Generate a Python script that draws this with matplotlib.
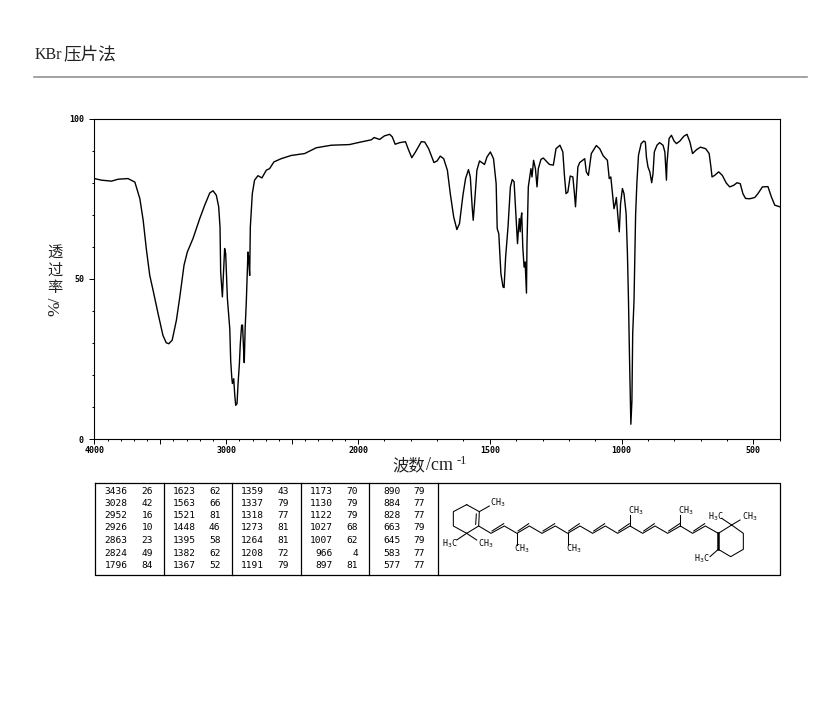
import numpy as np
import matplotlib
matplotlib.use('Agg')
import matplotlib.pyplot as plt

W, H = 822, 709
CJK = 'Noto Sans CJK SC'
SERIF = 'Liberation Serif'
MONO = 'DejaVu Sans Mono'
INK = '#222222'

# spectrum
wavenumber = [4000, 3946, 3870, 3820, 3745, 3693, 3655, 3630, 3605, 3580, 3555, 3517, 3480, 3455, 3436,
              3410, 3378, 3352, 3320, 3295, 3252, 3201, 3163, 3125, 3100, 3075, 3057, 3047, 3042, 3029,
              3022, 3012, 3004, 2991, 2973, 2966, 2958, 2953, 2943, 2935, 2928, 2918, 2910, 2900, 2893,
              2883, 2876, 2868, 2863, 2856, 2848, 2840, 2835, 2830, 2822, 2817, 2802, 2785, 2759, 2729,
              2696, 2671, 2638, 2583, 2507, 2405, 2317, 2203, 2065, 2001, 1949, 1939, 1918, 1900, 1880,
              1870, 1859, 1842, 1820, 1810, 1796, 1782, 1760, 1747, 1732, 1712, 1700, 1688, 1675, 1661,
              1650, 1637, 1625, 1615, 1602, 1592, 1581, 1574, 1567, 1563, 1558, 1549, 1539, 1520, 1511,
              1498, 1486, 1476, 1472, 1466, 1458, 1450, 1446, 1440, 1431, 1422, 1415, 1408, 1402, 1395,
              1392, 1388, 1385, 1382, 1379, 1375, 1370, 1366, 1361, 1359, 1354, 1344, 1340, 1334, 1327,
              1321, 1316, 1306, 1297, 1274, 1259, 1249, 1234, 1223, 1217, 1211, 1204, 1195, 1185, 1179,
              1175, 1166, 1159, 1140, 1134, 1126, 1115, 1096, 1083, 1070, 1054, 1047, 1041, 1036, 1029,
              1024, 1020, 1014, 1009, 1004, 997, 991, 983, 978, 974, 970, 965, 961, 958, 953, 947,
              942, 936, 926, 916, 910, 906, 900, 893, 886, 881, 876, 866, 856, 843, 836, 830,
              828, 820, 811, 801, 792, 779, 764, 752, 741, 731, 716, 701, 681, 668, 662, 657,
              647, 632, 618, 603, 590, 575, 562, 550, 540, 530, 514, 495, 483, 466, 445, 432,
              419, 400]
transmittance = [81.3, 80.8, 80.5, 81.1, 81.3, 80.2, 75.0, 68.3, 59.0, 51.1, 46.5, 39.2, 32.4, 30.1, 29.8,
                 30.9, 37.1, 44.4, 54.3, 58.4, 62.6, 68.8, 73.0, 76.8, 77.5, 76.1, 72.5, 66.2, 52.2, 44.4,
                 50.6, 59.5, 57.9, 43.9, 34.5, 24.6, 19.4, 17.4, 18.9, 13.7, 10.6, 11.1, 17.4, 23.6, 29.8,
                 35.6, 35.6, 27.8, 23.9, 35.0, 42.3, 51.7, 58.4, 56.8, 51.1, 66.2, 76.6, 80.8, 82.2, 81.5,
                 83.9, 84.4, 86.5, 87.5, 88.5, 89.1, 90.9, 91.7, 91.9, 92.5, 93.4, 94.1, 93.5, 94.6, 95.1,
                 94.3, 92.0, 92.5, 92.8, 90.6, 87.8, 89.6, 92.8, 92.7, 90.6, 86.3, 86.8, 88.3, 87.5, 83.9,
                 76.6, 69.3, 65.4, 67.3, 76.1, 81.3, 84.1, 81.8, 72.5, 68.3, 73.5, 83.9, 86.8, 85.7, 88.0,
                 89.6, 87.5, 79.7, 65.7, 64.1, 51.7, 47.5, 47.3, 56.9, 66.2, 78.7, 81.0, 80.3, 71.4, 61.0,
                 64.7, 68.8, 64.7, 68.8, 70.6, 60.0, 53.7, 55.3, 45.6, 61.0, 78.7, 84.4, 81.8, 87.0, 84.4,
                 78.7, 84.4, 87.3, 87.7, 85.7, 85.5, 90.6, 91.7, 89.6, 82.3, 76.6, 77.1, 82.1, 81.8, 76.6,
                 72.5, 84.9, 86.3, 87.5, 83.4, 82.3, 89.1, 91.6, 90.6, 88.4, 87.0, 81.3, 81.8, 77.7, 71.9,
                 73.5, 75.4, 69.3, 64.7, 73.5, 78.2, 76.6, 70.4, 57.9, 43.3, 25.0, 4.7, 12.0, 33.0, 43.3, 69.9,
                 80.2, 88.6, 92.2, 93.0, 92.7, 88.0, 84.9, 83.4, 80.0, 82.8, 89.6, 91.7, 92.5, 91.7, 89.6, 80.8,
                 86.0, 93.8, 94.8, 93.0, 92.2, 93.0, 94.5, 95.1, 92.7, 89.1, 90.3, 91.1, 90.6, 89.1, 85.4, 81.8,
                 82.3, 83.4, 82.3, 79.9, 78.7, 79.2, 80.0, 79.7, 76.6, 75.1, 75.0, 75.4, 76.6, 78.7, 78.8, 75.6,
                 73.0, 72.5]

x_major = [4000, 3500, 3000, 2500, 2000, 1500, 1000, 500]
x_labels = ['4000', '', '3000', '', '2000', '1500', '1000', '500']
y_major = [0, 50, 100]

# peak table, one pair of lists per column
peak_wn = [[3436, 3028, 2952, 2926, 2863, 2824, 1796],
           [1623, 1563, 1521, 1448, 1395, 1382, 1367],
           [1359, 1337, 1318, 1273, 1264, 1208, 1191],
           [1173, 1130, 1122, 1027, 1007, 966, 897],
           [890, 884, 828, 663, 645, 583, 577]]
peak_t = [[26, 42, 16, 10, 23, 49, 84],
          [62, 66, 81, 46, 58, 62, 52],
          [43, 79, 77, 81, 81, 72, 79],
          [70, 79, 79, 68, 62, 4, 81],
          [79, 77, 77, 79, 79, 77, 77]]

# structure drawing, in its own 1050 x 255 frame
ring_left = [(92, 44), (130, 65), (128, 108), (92, 130), (52, 108), (52, 65), (92, 44)]
ring_right = [(847, 130), (887, 105), (922, 130), (922, 178), (884, 200), (847, 178)]
chain = [(128, 108), (165, 130), (205, 108), (243, 130), (280, 108), (318, 130), (358, 108), (395, 130),
         (432, 108), (470, 130), (508, 108), (545, 130), (582, 108), (620, 130), (657, 108), (695, 130),
         (733, 108), (770, 130), (808, 108), (847, 130)]
stubs = [((130, 65), (160, 48)), ((92, 130), (62, 150)), ((92, 130), (122, 150)),
         ((243, 130), (243, 165)), ((395, 130), (395, 165)), ((582, 108), (582, 75)),
         ((733, 108), (733, 75)), ((887, 105), (857, 85)), ((887, 105), (912, 90)),
         ((847, 178), (822, 200))]
atoms = [(186, 37, 'CH$_3$'), (40, 162, 'H$_3$C'), (148, 162, 'CH$_3$'), (258, 177, 'CH$_3$'),
         (412, 177, 'CH$_3$'), (600, 63, 'CH$_3$'), (750, 63, 'CH$_3$'), (838, 80, 'H$_3$C'),
         (942, 80, 'CH$_3$'), (797, 205, 'H$_3$C')]


def forward(w):
    w = np.asarray(w, dtype=float)
    return np.where(w <= 2000, w, 2000 + (w - 2000) / 2)


def inverse(u):
    u = np.asarray(u, dtype=float)
    return np.where(u <= 2000, u, 2000 + (u - 2000) * 2)


def box(x0, y0, x1, y1):
    return [x0 / W, 1 - y1 / H, (x1 - x0) / W, (y1 - y0) / H]


fig = plt.figure(figsize=(W / 100, H / 100), dpi=100)

# spectrum
ax = fig.add_axes(box(94.4, 118.6, 779.8, 439.3))
ax.set_xscale('function', functions=(forward, inverse))
ax.plot(wavenumber, transmittance, color='black', linewidth=1.0)
ax.set_xlim(4000, 400)
ax.set_ylim(0, 100)
ax.set_xticks(x_major, x_labels, fontfamily=MONO, fontsize=6, fontweight='bold')
ax.set_xticks(np.arange(400, 4000, 100), minor=True)
ax.set_yticks(y_major, [str(v) for v in y_major], fontfamily=MONO, fontsize=6, fontweight='bold')
ax.set_yticks(np.arange(0, 101, 10), minor=True)
ax.tick_params(which='major', length=3.5, width=0.7, pad=1.5)
ax.tick_params(which='minor', length=1.5, width=0.7)
ax.tick_params(axis='y', which='major', pad=4)
for spine in ax.spines.values():
    spine.set_linewidth(0.8)

# overlay in pixel coordinates for the page furniture and the table
page = fig.add_axes([0, 0, 1, 1])
page.set_xlim(0, W)
page.set_ylim(H, 0)
page.axis('off')
page.patch.set_alpha(0)

page.text(35, 55, 'KBr', family=SERIF, fontsize=11.5, va='center', ha='left', color=INK)
page.text(63, 55, '压片法', family=CJK, fontsize=12.7, va='center', ha='left', color=INK)
page.plot([34, 807], [76.5, 76.5], color='#8a8a8a', linewidth=1.1)

for y_char, char in zip([252.5, 270.5, 287.5], '透过率'):
    page.text(55, y_char, char, family=CJK, fontsize=11, va='center', ha='center', color=INK)
page.text(55, 306, '%/', family=SERIF, fontsize=12.5, rotation=90, va='center', ha='center', color=INK)

page.text(392, 465.5, '波数', family=CJK, fontsize=11.8, va='center', ha='left', color=INK)
page.text(426, 465.5, '/cm', family=SERIF, fontsize=13, va='center', ha='left', color=INK)
page.text(456.5, 461, '-1', family=SERIF, fontsize=9, va='center', ha='left', color=INK)

# table frame
page.plot([94.5, 779.5, 779.5, 94.5, 94.5], [482.5, 482.5, 574.5, 574.5, 482.5], color='black', linewidth=0.9)
for xs in [163.5, 231.5, 300.5, 369, 437.5]:
    page.plot([xs, xs], [482.5, 574.5], color='black', linewidth=0.9)

col_wn = [127.5, 196, 264, 332.5, 401]
col_t = [153, 220.5, 289, 358, 425]
row_y = [491.5, 503.5, 516, 528, 540.5, 553, 565.5]
for i in range(len(peak_wn)):
    for j in range(len(row_y)):
        page.text(col_wn[i], row_y[j], str(peak_wn[i][j]), family=MONO, fontsize=6.8, ha='right', va='center')
        page.text(col_t[i], row_y[j], str(peak_t[i][j]), family=MONO, fontsize=6.8, ha='right', va='center')

# structure
mol = fig.add_axes(box(436, 490, 786, 575))
mol.set_xlim(0, 1050)
mol.set_ylim(255, 0)
mol.axis('off')
mol.patch.set_alpha(0)

ink = dict(color='black', linewidth=0.75)
x, y = zip(*ring_left)
mol.plot(x, y, **ink)
mol.plot([121, 119], [72, 103], **ink)
x, y = zip(*ring_right)
mol.plot(x, y, **ink)
mol.plot([847, 847], [130, 178], color='black', linewidth=1.8)
x, y = zip(*chain)
mol.plot(x, y, **ink)
for k in range(1, len(chain) - 1, 2):
    (x0, y0), (x1, y1) = chain[k], chain[k + 1]
    mol.plot([x0 + 3, x1 - 2], [y0 - 7, y1 - 7], **ink)
for a, b in stubs:
    mol.plot([a[0], b[0]], [a[1], b[1]], **ink)
for x0, y0, label in atoms:
    mol.text(x0, y0, label, family=MONO, fontsize=6, ha='center', va='center',
             math_fontfamily='dejavusans')

fig.savefig('out.png', dpi=100)
